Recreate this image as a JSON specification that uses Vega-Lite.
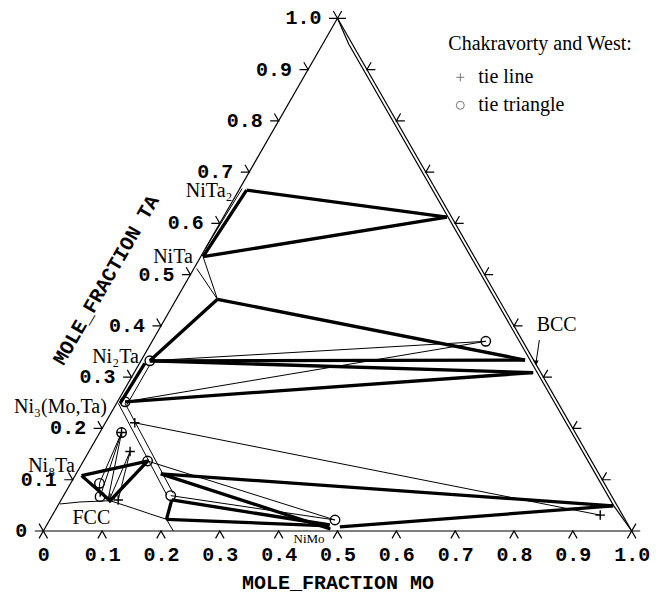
{
  "$schema": "https://vega.github.io/schema/vega-lite/v6.json",
  "width": 588.4,
  "height": 512.7,
  "autosize": {"type": "none"},
  "padding": {"left": 43.3, "top": 18.3, "right": 30.3, "bottom": 65},
  "background": "white",
  "config": {"view": {"stroke": null}},
  "datasets": {
    "edges": [
      {"id": "left", "i": 0, "mo": 0, "ta": 0}, {"id": "left", "i": 1, "mo": 0, "ta": 1},
      {"id": "bottom", "i": 0, "mo": 0, "ta": 0}, {"id": "bottom", "i": 1, "mo": 1, "ta": 0},
      {"id": "right", "i": 0, "mo": 1, "ta": 0}, {"id": "right", "i": 1, "mo": 0, "ta": 1},
      {"id": "bcc", "i": 0, "mo": 1, "ta": 0}, {"id": "bcc", "i": 1, "mo": 0.944, "ta": 0.05},
      {"id": "bcc", "i": 2, "mo": 0.044, "ta": 0.95}, {"id": "bcc", "i": 3, "mo": 0, "ta": 1}
    ],
    "thick": [
      {"id": "T1", "i": 0, "mo": 0.013, "ta": 0.665}, {"id": "T1", "i": 1, "mo": 0.38, "ta": 0.612},
      {"id": "T2", "i": 0, "mo": 0.004, "ta": 0.535}, {"id": "T2", "i": 1, "mo": 0.38, "ta": 0.612},
      {"id": "T3", "i": 0, "mo": 0.013, "ta": 0.665}, {"id": "T3", "i": 1, "mo": 0.004, "ta": 0.535},
      {"id": "T4", "i": 0, "mo": 0.07, "ta": 0.452}, {"id": "T4", "i": 1, "mo": 0.015, "ta": 0.332},
      {"id": "T5", "i": 0, "mo": 0.07, "ta": 0.452}, {"id": "T5", "i": 1, "mo": 0.652, "ta": 0.3335},
      {"id": "T6", "i": 0, "mo": 0.015, "ta": 0.332}, {"id": "T6", "i": 1, "mo": 0.652, "ta": 0.3335},
      {"id": "T7", "i": 0, "mo": 0.015, "ta": 0.332}, {"id": "T7", "i": 1, "mo": 0.678, "ta": 0.309},
      {"id": "T8", "i": 0, "mo": 0.013, "ta": 0.252}, {"id": "T8", "i": 1, "mo": 0.678, "ta": 0.309},
      {"id": "T9", "i": 0, "mo": 0.006, "ta": 0.249}, {"id": "T9", "i": 1, "mo": 0.009, "ta": 0.327},
      {"id": "T10", "i": 0, "mo": 0.011, "ta": 0.108}, {"id": "T10", "i": 1, "mo": 0.109, "ta": 0.1365},
      {"id": "T10", "i": 2, "mo": 0.084, "ta": 0.059}, {"id": "T10", "i": 3, "mo": 0.011, "ta": 0.108},
      {"id": "T11", "i": 0, "mo": 0.144, "ta": 0.1115}, {"id": "T11", "i": 1, "mo": 0.944, "ta": 0.049},
      {"id": "T12", "i": 0, "mo": 0.144, "ta": 0.1115}, {"id": "T12", "i": 1, "mo": 0.486, "ta": 0.004},
      {"id": "T13", "i": 0, "mo": 0.188, "ta": 0.0605}, {"id": "T13", "i": 1, "mo": 0.481, "ta": 0.0117},
      {"id": "T14", "i": 0, "mo": 0.198, "ta": 0.0228}, {"id": "T14", "i": 1, "mo": 0.481, "ta": 0.01},
      {"id": "T15", "i": 0, "mo": 0.5, "ta": 0.008}, {"id": "T15", "i": 1, "mo": 0.944, "ta": 0.049},
      {"id": "T16", "i": 0, "mo": 0.188, "ta": 0.0605}, {"id": "T16", "i": 1, "mo": 0.198, "ta": 0.0228}
    ],
    "thin": [
      {"id": "t1", "i": 0, "mo": 0.004, "ta": 0.535}, {"id": "t1", "i": 1, "mo": 0.07, "ta": 0.452},
      {"id": "t2", "i": 0, "mo": 0.0047, "ta": 0.512}, {"id": "t2", "i": 1, "mo": 0.07, "ta": 0.452},
      {"id": "t3", "i": 0, "mo": 0.015, "ta": 0.332}, {"id": "t3", "i": 1, "mo": 0.567, "ta": 0.37},
      {"id": "t4", "i": 0, "mo": 0.013, "ta": 0.252}, {"id": "t4", "i": 1, "mo": 0.567, "ta": 0.37},
      {"id": "t5", "i": 0, "mo": 0.019, "ta": 0.246}, {"id": "t5", "i": 1, "mo": 0.019, "ta": 0.324},
      {"id": "t6", "i": 0, "mo": 0.003, "ta": 0.249}, {"id": "t6", "i": 1, "mo": 0.175, "ta": 0.07},
      {"id": "t7", "i": 0, "mo": 0.0144, "ta": 0.249}, {"id": "t7", "i": 1, "mo": 0.184, "ta": 0.0735},
      {"id": "t8", "i": 0, "mo": 0.002, "ta": 0.0527}, {"id": "t8", "i": 1, "mo": 0.034, "ta": 0.0566},
      {"id": "t8", "i": 2, "mo": 0.084, "ta": 0.0591}, {"id": "t8", "i": 3, "mo": 0.131, "ta": 0.0443},
      {"id": "t8", "i": 4, "mo": 0.165, "ta": 0.0332}, {"id": "t8", "i": 5, "mo": 0.198, "ta": 0.0228},
      {"id": "t9", "i": 0, "mo": 0.198, "ta": 0.0228}, {"id": "t9", "i": 1, "mo": 0.221, "ta": 0},
      {"id": "t10", "i": 0, "mo": 0.05, "ta": 0.211}, {"id": "t10", "i": 1, "mo": 0.931, "ta": 0.031},
      {"id": "t11", "i": 0, "mo": 0.109, "ta": 0.1365}, {"id": "t11", "i": 1, "mo": 0.485, "ta": 0.0215},
      {"id": "t12", "i": 0, "mo": 0.182, "ta": 0.069}, {"id": "t12", "i": 1, "mo": 0.485, "ta": 0.0215},
      {"id": "t13", "i": 0, "mo": 0.037, "ta": 0.192}, {"id": "t13", "i": 1, "mo": 0.049, "ta": 0.093},
      {"id": "t14", "i": 0, "mo": 0.037, "ta": 0.192}, {"id": "t14", "i": 1, "mo": 0.063, "ta": 0.067},
      {"id": "t15", "i": 0, "mo": 0.037, "ta": 0.192}, {"id": "t15", "i": 1, "mo": 0.08, "ta": 0.0595},
      {"id": "t16", "i": 0, "mo": 0.049, "ta": 0.093}, {"id": "t16", "i": 1, "mo": 0.063, "ta": 0.067},
      {"id": "t17", "i": 0, "mo": 0.07, "ta": 0.155}, {"id": "t17", "i": 1, "mo": 0.0815, "ta": 0.0637},
      {"id": "t18", "i": 0, "mo": 0.07, "ta": 0.155}, {"id": "t18", "i": 1, "mo": 0.097, "ta": 0.0605},
      {"id": "t19", "i": 0, "mo": 0.004, "ta": 0.668}, {"id": "t19", "i": 1, "mo": 0.0, "ta": 0.55},
      {"id": "arrow", "i": 0, "mo": 0.6568, "ta": 0.3725}, {"id": "arrow", "i": 1, "mo": 0.6735, "ta": 0.3277}
    ],
    "markers": [
      {"type": "tie triangle", "mo": 0.015, "ta": 0.332},
      {"type": "tie triangle", "mo": 0.013, "ta": 0.252},
      {"type": "tie triangle", "mo": 0.567, "ta": 0.37},
      {"type": "tie triangle", "mo": 0.037, "ta": 0.192},
      {"type": "tie triangle", "mo": 0.049, "ta": 0.093},
      {"type": "tie triangle", "mo": 0.063, "ta": 0.067},
      {"type": "tie triangle", "mo": 0.109, "ta": 0.1365},
      {"type": "tie triangle", "mo": 0.182, "ta": 0.069},
      {"type": "tie triangle", "mo": 0.485, "ta": 0.0215},
      {"type": "tie line", "mo": 0.05, "ta": 0.211},
      {"type": "tie line", "mo": 0.931, "ta": 0.031},
      {"type": "tie line", "mo": 0.037, "ta": 0.192},
      {"type": "tie line", "mo": 0.07, "ta": 0.155},
      {"type": "tie line", "mo": 0.0815, "ta": 0.0637},
      {"type": "tie line", "mo": 0.097, "ta": 0.0605}
    ],
    "arrowHead": [{"mo": 0.6735, "ta": 0.3277}],
    "ticks": [
      {"edge": "bottom", "mo": 0, "ta": 0}, {"edge": "bottom", "mo": 0.1, "ta": 0}, {"edge": "bottom", "mo": 0.2, "ta": 0},
      {"edge": "bottom", "mo": 0.3, "ta": 0}, {"edge": "bottom", "mo": 0.4, "ta": 0}, {"edge": "bottom", "mo": 0.5, "ta": 0},
      {"edge": "bottom", "mo": 0.6, "ta": 0}, {"edge": "bottom", "mo": 0.7, "ta": 0}, {"edge": "bottom", "mo": 0.8, "ta": 0},
      {"edge": "bottom", "mo": 0.9, "ta": 0}, {"edge": "bottom", "mo": 1, "ta": 0},
      {"edge": "left", "mo": 0, "ta": 0}, {"edge": "left", "mo": 0, "ta": 0.1}, {"edge": "left", "mo": 0, "ta": 0.2},
      {"edge": "left", "mo": 0, "ta": 0.3}, {"edge": "left", "mo": 0, "ta": 0.4}, {"edge": "left", "mo": 0, "ta": 0.5},
      {"edge": "left", "mo": 0, "ta": 0.6}, {"edge": "left", "mo": 0, "ta": 0.7}, {"edge": "left", "mo": 0, "ta": 0.8},
      {"edge": "left", "mo": 0, "ta": 0.9}, {"edge": "left", "mo": 0, "ta": 1},
      {"edge": "right", "mo": 1, "ta": 0}, {"edge": "right", "mo": 0.9, "ta": 0.1}, {"edge": "right", "mo": 0.8, "ta": 0.2},
      {"edge": "right", "mo": 0.7, "ta": 0.3}, {"edge": "right", "mo": 0.6, "ta": 0.4}, {"edge": "right", "mo": 0.5, "ta": 0.5},
      {"edge": "right", "mo": 0.4, "ta": 0.6}, {"edge": "right", "mo": 0.3, "ta": 0.7}, {"edge": "right", "mo": 0.2, "ta": 0.8},
      {"edge": "right", "mo": 0.1, "ta": 0.9}, {"edge": "right", "mo": 0, "ta": 1}
    ],
    "leftLabels": [
      {"mo": 0, "ta": 0, "label": "0"}, {"mo": 0, "ta": 0.1, "label": "0.1"}, {"mo": 0, "ta": 0.2, "label": "0.2"},
      {"mo": 0, "ta": 0.3, "label": "0.3"}, {"mo": 0, "ta": 0.4, "label": "0.4"}, {"mo": 0, "ta": 0.5, "label": "0.5"},
      {"mo": 0, "ta": 0.6, "label": "0.6"}, {"mo": 0, "ta": 0.7, "label": "0.7"}, {"mo": 0, "ta": 0.8, "label": "0.8"},
      {"mo": 0, "ta": 0.9, "label": "0.9"}, {"mo": 0, "ta": 1, "label": "1.0"}
    ],
    "phases": [
      {"name": "NiTa₂", "mo": -0.05, "ta": 0.6637},
      {"name": "NiTa", "mo": -0.0465, "ta": 0.5338},
      {"name": "Ni₂Ta", "mo": -0.047, "ta": 0.3394},
      {"name": "Ni₃(Mo,Ta)", "mo": -0.092, "ta": 0.2424},
      {"name": "Ni₈Ta", "mo": -0.0495, "ta": 0.1268},
      {"name": "FCC", "mo": 0.069, "ta": 0.0254},
      {"name": "BCC", "mo": 0.6716, "ta": 0.4018},
      {"name": "NiMo", "mo": 0.4597, "ta": -0.0162}
    ]
  },
  "encoding": {
    "x": {
      "field": "x", "type": "quantitative",
      "scale": {"domain": [0, 1], "nice": false, "zero": false},
      "axis": {
        "values": [0, 0.1, 0.2, 0.3, 0.4, 0.5, 0.6, 0.7, 0.8, 0.9, 1],
        "labelExpr": "datum.value === 0 ? '0' : format(datum.value, '.1f')",
        "domain": false, "ticks": false, "tickSize": 0, "grid": false,
        "labelPadding": 13, "labelFlush": false, "labelOverlap": false,
        "labelFont": "Liberation Mono", "labelFontSize": 20, "labelFontWeight": "bold", "labelColor": "black",
        "title": "MOLE_FRACTION MO", "titleFont": "Liberation Mono", "titleFontSize": 20,
        "titleFontWeight": "bold", "titleColor": "black", "titlePadding": 8
      }
    },
    "y": {
      "field": "ta", "type": "quantitative",
      "scale": {"domain": [0, 1], "nice": false, "zero": false},
      "axis": {
        "domain": false, "ticks": false, "labels": false, "grid": false,
        "title": "MOLE_FRACTION TA", "titleAngle": -60, "titleX": 62.5, "titleY": 261.4,
        "titleAlign": "center", "titleBaseline": "middle",
        "titleFont": "Liberation Mono", "titleFontSize": 20, "titleFontWeight": "bold", "titleColor": "black"
      }
    }
  },
  "layer": [
    {
      "data": {"name": "edges"},
      "transform": [{"calculate": "datum.mo + datum.ta / 2", "as": "x"}],
      "mark": {"type": "line", "stroke": "black", "strokeWidth": 1.2},
      "encoding": {"detail": {"field": "id"}, "order": {"field": "i"}}
    },
    {
      "data": {"name": "thin"},
      "transform": [{"calculate": "datum.mo + datum.ta / 2", "as": "x"}],
      "mark": {"type": "line", "stroke": "black", "strokeWidth": 1},
      "encoding": {"detail": {"field": "id"}, "order": {"field": "i"}}
    },
    {
      "data": {"name": "thick"},
      "transform": [{"calculate": "datum.mo + datum.ta / 2", "as": "x"}],
      "mark": {"type": "line", "stroke": "black", "strokeWidth": 3.3, "strokeJoin": "round"},
      "encoding": {"detail": {"field": "id"}, "order": {"field": "i"}}
    },
    {
      "data": {"name": "ticks"},
      "transform": [{"calculate": "datum.mo + datum.ta / 2", "as": "x"}],
      "mark": {"type": "point", "filled": false, "stroke": "black", "strokeWidth": 1.2, "size": 289, "opacity": 1},
      "encoding": {
        "shape": {
          "field": "edge", "type": "nominal", "legend": null,
          "scale": {"domain": ["bottom", "left", "right"],
                    "range": ["M-0.5,0.866L0,0L0.5,0.866", "M-1,0L0,0L-0.5,-0.866", "M1,0L0,0L0.5,-0.866"]}
        }
      }
    },
    {
      "data": {"name": "markers"},
      "transform": [{"calculate": "datum.mo + datum.ta / 2", "as": "x"}],
      "mark": {"type": "point", "filled": false, "stroke": "black", "strokeWidth": 1.4, "size": 90, "opacity": 1},
      "encoding": {
        "shape": {
          "field": "type", "type": "nominal",
          "scale": {"domain": ["tie line", "tie triangle"], "range": ["M-1,0L1,0M0,-1L0,1", "circle"]},
          "legend": {
            "title": "Chakravorty and West:", "orient": "none", "legendX": 405, "legendY": 16,
            "padding": 0, "titleFont": "Liberation Serif", "titleFontSize": 20, "titleFontWeight": "normal",
            "titleColor": "black", "titlePadding": 13, "titleLimit": 400, "labelLimit": 300,
            "labelFont": "Liberation Serif", "labelFontSize": 20,
            "labelColor": "black", "labelOffset": 8, "symbolOffset": 2, "symbolSize": 64,
            "symbolStrokeColor": "#777", "symbolFillColor": "transparent", "symbolStrokeWidth": 1, "rowPadding": 8
          }
        }
      }
    },
    {
      "data": {"name": "arrowHead"},
      "transform": [{"calculate": "datum.mo + datum.ta / 2", "as": "x"}],
      "mark": {"type": "point", "shape": "triangle-down", "filled": true, "color": "black", "size": 30, "opacity": 1}
    },
    {
      "data": {"name": "leftLabels"},
      "transform": [{"calculate": "datum.mo + datum.ta / 2", "as": "x"}],
      "mark": {"type": "text", "align": "right", "baseline": "middle", "dx": -16,
               "font": "Liberation Mono", "fontSize": 20, "fontWeight": "bold", "color": "black"},
      "encoding": {"text": {"field": "label"}}
    },
    {
      "data": {"name": "phases"},
      "transform": [{"filter": "datum.name !== 'NiMo'"}, {"calculate": "datum.mo + datum.ta / 2", "as": "x"}],
      "mark": {"type": "text", "align": "center", "baseline": "middle",
               "font": "Liberation Serif", "fontSize": 20, "color": "black"},
      "encoding": {"text": {"field": "name"}}
    },
    {
      "data": {"name": "phases"},
      "transform": [{"filter": "datum.name === 'NiMo'"}, {"calculate": "datum.mo + datum.ta / 2", "as": "x"}],
      "mark": {"type": "text", "align": "center", "baseline": "middle",
               "font": "Liberation Serif", "fontSize": 13, "color": "black"},
      "encoding": {"text": {"field": "name"}}
    }
  ],
  "resolve": {"scale": {"shape": "independent"}, "legend": {"shape": "independent"}}
}
